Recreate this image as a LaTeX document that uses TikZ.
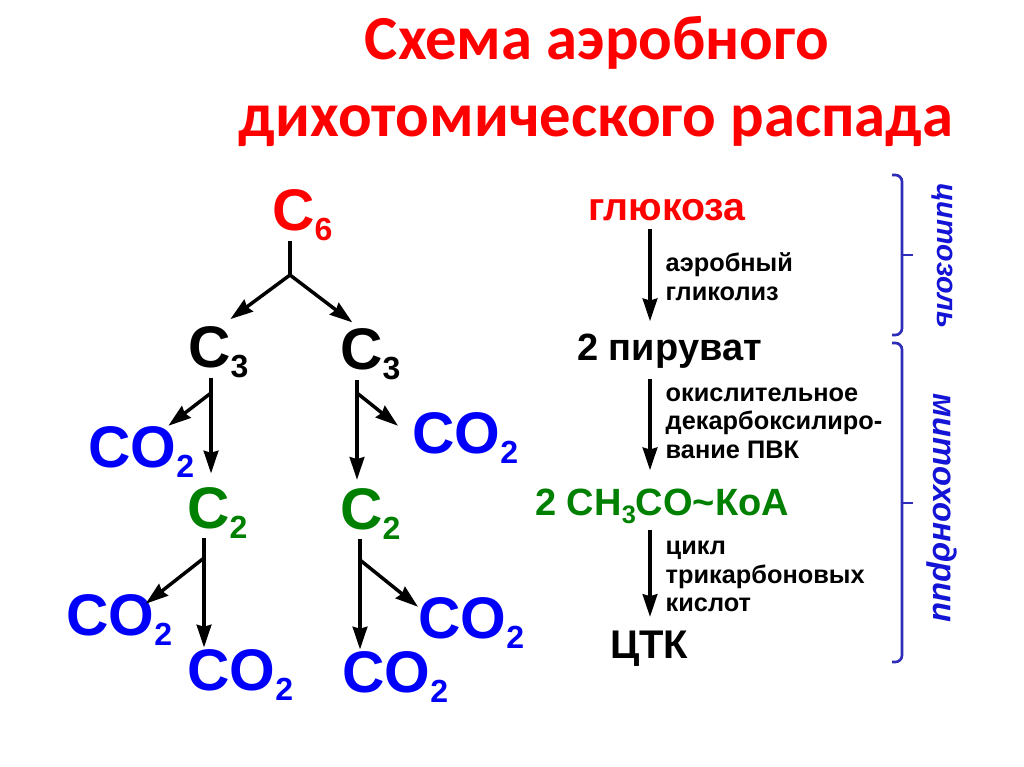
\documentclass[tikz,border=0pt]{standalone}
\usepackage{fontspec}
\setmainfont{Liberation Sans}
\newfontfamily\titlefont{Carlito}
\usetikzlibrary{arrows.meta}
\definecolor{blu}{RGB}{0,0,250}
\definecolor{grn}{RGB}{0,128,0}
\definecolor{brcol}{RGB}{45,45,185}
\definecolor{sidecol}{RGB}{20,20,215}
\newcommand{\lowi}[1]{\raisebox{-7.5pt}{\fontsize{24}{24}\selectfont #1}}
\newcommand{\lowii}[1]{\raisebox{-6pt}{\fontsize{19}{19}\selectfont #1}}

\begin{document}
\begin{tikzpicture}[x=0.75pt,y=-0.75pt,
	big/.style={anchor=base west,inner sep=0pt,font=\fontsize{44}{44}\selectfont\bfseries},
	rcol/.style={anchor=base west,inner sep=0pt},
	stem/.style={line width=2.6pt},
	arr/.style={line width=2.6pt,-{Stealth[length=17pt,width=11pt,inset=1.5pt]}},
	lbl/.style={right,inner sep=10.5pt,align=left,font=\fontsize{19}{21.4}\selectfont\bfseries},
	brc/.style={color=brcol,line width=2pt,rounded corners=5pt},
	side/.style={color=sidecol,rotate=-90}]
		\fill[white] (0,0) rectangle (1024,767);
		\useasboundingbox (0,0) rectangle (1024,767);

		\node[anchor=base,color=red,font=\titlefont\fontsize{47}{47}\selectfont\bfseries] (tl1) at (597,60) {Схема аэробного};
		\node[anchor=base,color=red,font=\titlefont\fontsize{47}{47}\selectfont\bfseries] (tl2) at (596,136) {дихотомического распада};

		\node[big,red] (c6) at (272,230) {C\lowi{6}};
		\node[big] (c3l) at (188,367) {C\lowi{3}};
		\node[big] (c3r) at (340,369) {C\lowi{3}};
		\node[big,blu] (col) at (88,467) {CO\lowi{2}};
		\node[big,blu] (cor) at (412,453) {CO\lowi{2}};
		\node[big,grn] (c2l) at (187,528) {C\lowi{2}};
		\node[big,grn] (c2r) at (340,529) {C\lowi{2}};
		\node[big,blu] (cbl) at (66,635) {CO\lowi{2}};
		\node[big,blu] (cbm) at (187,690) {CO\lowi{2}};
		\node[big,blu] (cbn) at (342,692) {CO\lowi{2}};
		\node[big,blu] (cbr) at (418,638) {CO\lowi{2}};

		\coordinate (j6) at (290,275);
		\coordinate (j3l) at (211,393);
		\coordinate (j3r) at (357,393);
		\coordinate (j2l) at (204,558);
		\coordinate (j2r) at (360,560);

		\draw[stem] (j6 |- c6.south) -- (j6);
		\draw[arr] (j6) -- ([xshift=9pt,yshift=5pt]c3l.north);
		\draw[arr] (j6) -- ([xshift=-13.5pt,yshift=4pt]c3r.north);

		\draw[arr] (j3l |- c3l.south) -- ([yshift=10pt]c2l.north -| j3l);
		\draw[arr] (j3l) -- ([xshift=-19.5pt]col.north east);
		\draw[arr] (j3r |- c3r.south) -- ([yshift=6pt]c2r.north -| j3r);
		\draw[arr] (j3r) -- ([xshift=-10.5pt,yshift=-10.5pt]cor.north west);

		\draw[arr] (j2l |- c2l.south) -- ([yshift=1pt]cbm.north -| j2l);
		\draw[arr] (j2l) -- ([xshift=-20pt,yshift=-7.5pt]cbl.north east);
		\draw[arr] (j2r |- c2r.south) -- ([yshift=1pt]cbn.north -| j2r);
		\draw[arr] (j2r) -- ([yshift=-7.5pt]cbr.north west);

		\node[rcol,red,font=\fontsize{29.5}{30}\selectfont\bfseries] (glu) at (588,220) {глюкоза};
		\node[rcol,font=\fontsize{28.5}{29}\selectfont\bfseries] (pyr) at (577,360) {2 пируват};
		\node[rcol,grn,font=\fontsize{28.5}{29}\selectfont\bfseries] (acc) at (535,515) {2 CH\lowii{3}CO\textasciitilde КоА};
		\node[rcol,font=\fontsize{30}{30}\selectfont\bfseries] (ctk) at (610,658) {ЦТК};

		\coordinate (ax) at (650,0);
		\draw[arr,shorten <=6pt,shorten >=9pt] (ax |- glu.south) -- (ax |- pyr.north) node[lbl,midway] {аэробный\\гликолиз};
		\draw[arr,shorten <=8pt,shorten >=13.5pt] (ax |- pyr.south) -- (ax |- acc.north) node[lbl,midway,yshift=4pt] {окислительное\\декарбоксилиро-\\вание ПВК};
		\draw[arr,shorten <=5pt,shorten >=10pt] (ax |- acc.south) -- (ax |- ctk.north) node[lbl,midway] {цикл\\трикарбоновых\\кислот};

		\draw[brc] (892,175) -| (902,335) -- (892,335);
		\draw[brc] (902,255) -- (913,255);
		\draw[brc] (892,343) -| (902,662) -- (892,662);
		\draw[brc] (902,503) -- (913,503);

		\node[side,font=\fontsize{21.5}{22}\selectfont\bfseries\itshape] (cyto) at (942,256) {цитозоль};
		\node[side,font=\fontsize{24.5}{25}\selectfont\bfseries\itshape] (mito) at (942,508) {митохондрии};
\end{tikzpicture}
\end{document}
